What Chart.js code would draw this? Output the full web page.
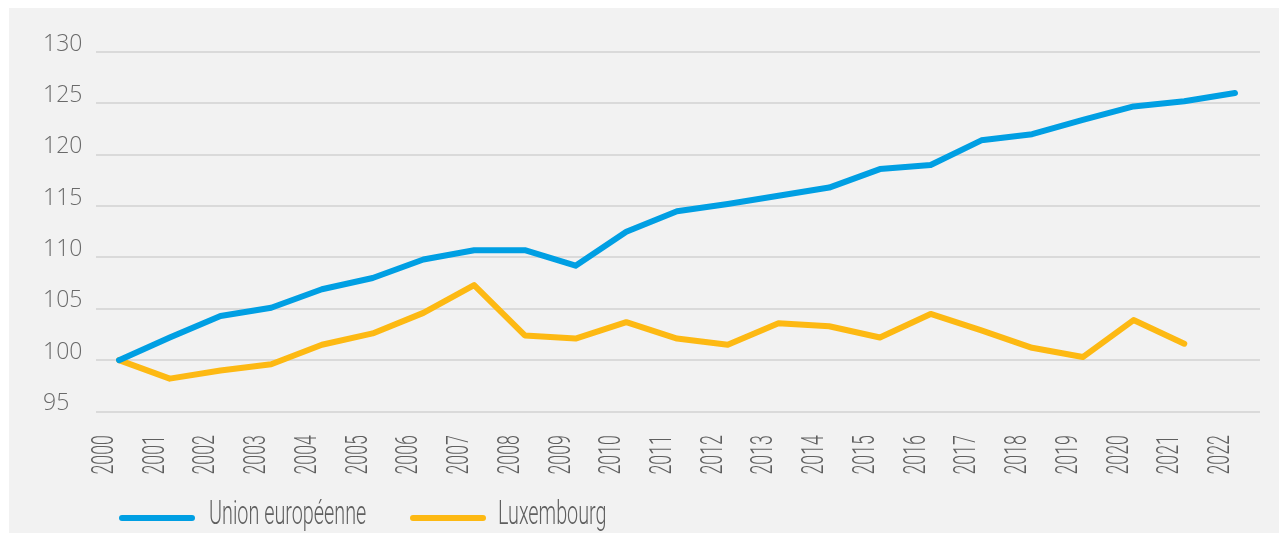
<!DOCTYPE html>
<html>
<head>
<meta charset="utf-8">
<script src="https://cdn.jsdelivr.net/npm/chart.js@4.4.0/dist/chart.umd.min.js"></script>
<style>
  html, body { margin: 0; padding: 0; background: #ffffff; }
  body { width: 1279px; height: 533px; position: relative; overflow: hidden; }
  #panel { position: absolute; left: 9px; top: 8px; right: 0; bottom: 0; background: #f2f2f2; }
  #wrap { position: absolute; left: 0; top: 0; width: 1279px; height: 533px; }
</style>
</head>
<body>
<div id="panel"></div>
<div id="wrap"><canvas id="c" width="1279" height="533"></canvas></div>
<script>
// ---- data ----
const years = ['2000','2001','2002','2003','2004','2005','2006','2007','2008','2009','2010','2011',
               '2012','2013','2014','2015','2016','2017','2018','2019','2020','2021','2022'];
const euValues = [100.0, 102.2, 104.3, 105.1, 106.9, 108.0, 109.8, 110.7, 110.7, 109.2, 112.5, 114.5,
                  115.2, 116.0, 116.8, 118.6, 119.0, 121.4, 122.0, 123.4, 124.7, 125.2, 126.0];
const luValues = [100.0, 98.2, 99.0, 99.6, 101.5, 102.6, 104.6, 107.3, 102.4, 102.1, 103.7, 102.1,
                  101.5, 103.6, 103.3, 102.2, 104.5, 102.9, 101.2, 100.3, 103.9, 101.6, null];
const seriesNames = ['Union européenne', 'Luxembourg'];
const yTicks = [95, 100, 105, 110, 115, 120, 125, 130];

const BLUE = '#009fe3';
const YELLOW = '#fdb913';
const TEXT = '#5f5f5f';

const toPoints = arr => arr.map((v, i) => ({ x: i, y: v }));

const labelPlugin = {
  id: 'customLabels',
  afterDraw(chart) {
    const ctx = chart.ctx;
    const xs = chart.scales.x;
    // x-axis year labels, rotated, condensed
    ctx.save();
    ctx.fillStyle = TEXT;
    ctx.font = '300 31px Roboto';
    ctx.textAlign = 'right';
    ctx.textBaseline = 'alphabetic';
    years.forEach((lab, i) => {
      const px = xs.getPixelForValue(i) - 6;
      ctx.save();
      ctx.translate(px, 435);
      ctx.rotate(-Math.PI / 2);
      ctx.scale(0.575, 1);
      ctx.fillText(lab, 0, 0);
      ctx.restore();
    });
    ctx.restore();

    // legend
    const items = [
      { name: seriesNames[0], color: BLUE, x0: 122, x1: 192, tx: 209 },
      { name: seriesNames[1], color: YELLOW, x0: 413, x1: 483, tx: 498 }
    ];
    ctx.save();
    items.forEach(it => {
      ctx.strokeStyle = it.color;
      ctx.lineWidth = 6;
      ctx.lineCap = 'round';
      ctx.beginPath();
      ctx.moveTo(it.x0, 518);
      ctx.lineTo(it.x1, 518);
      ctx.stroke();
      ctx.save();
      ctx.fillStyle = TEXT;
      ctx.font = '300 33px Roboto';
      ctx.textAlign = 'left';
      ctx.textBaseline = 'alphabetic';
      ctx.translate(it.tx, 523.5);
      ctx.scale(0.6, 1);
      ctx.fillText(it.name, 0, 0);
      ctx.restore();
    });
    ctx.restore();
  }
};

new Chart(document.getElementById('c'), {
  type: 'line',
  data: {
    datasets: [
      { label: seriesNames[0], data: toPoints(euValues), borderColor: BLUE, backgroundColor: BLUE,
        borderWidth: 6, pointRadius: 0, tension: 0, borderCapStyle: 'round', borderJoinStyle: 'round' },
      { label: seriesNames[1], data: toPoints(luValues), borderColor: YELLOW, backgroundColor: YELLOW,
        borderWidth: 6, pointRadius: 0, tension: 0, borderCapStyle: 'round', borderJoinStyle: 'round',
        spanGaps: false }
    ]
  },
  options: {
    responsive: false,
    animation: false,
    layout: { padding: { left: 43, right: 19, top: 52, bottom: 0 } },
    plugins: { legend: { display: false }, tooltip: { enabled: false } },
    scales: {
      x: {
        type: 'linear', min: -0.454, max: 22.493,
        grid: { display: false }, border: { display: false },
        ticks: { display: false },
        afterFit(scale) { scale.height = 121.5; }
      },
      y: {
        min: yTicks[0], max: yTicks[yTicks.length - 1],
        afterBuildTicks(scale) { scale.ticks = yTicks.map(v => ({ value: v })); },
        grid: { color: '#dadada', lineWidth: 2, drawTicks: false },
        border: { display: false },
        ticks: {
          crossAlign: 'far', labelOffset: -8, padding: 0,
          color: '#6a6a6a', font: { family: 'Open Sans', weight: '300', size: 23 }
        },
        afterFit(scale) { scale.width = 53; }
      }
    }
  },
  plugins: [labelPlugin]
});
</script>
</body>
</html>
